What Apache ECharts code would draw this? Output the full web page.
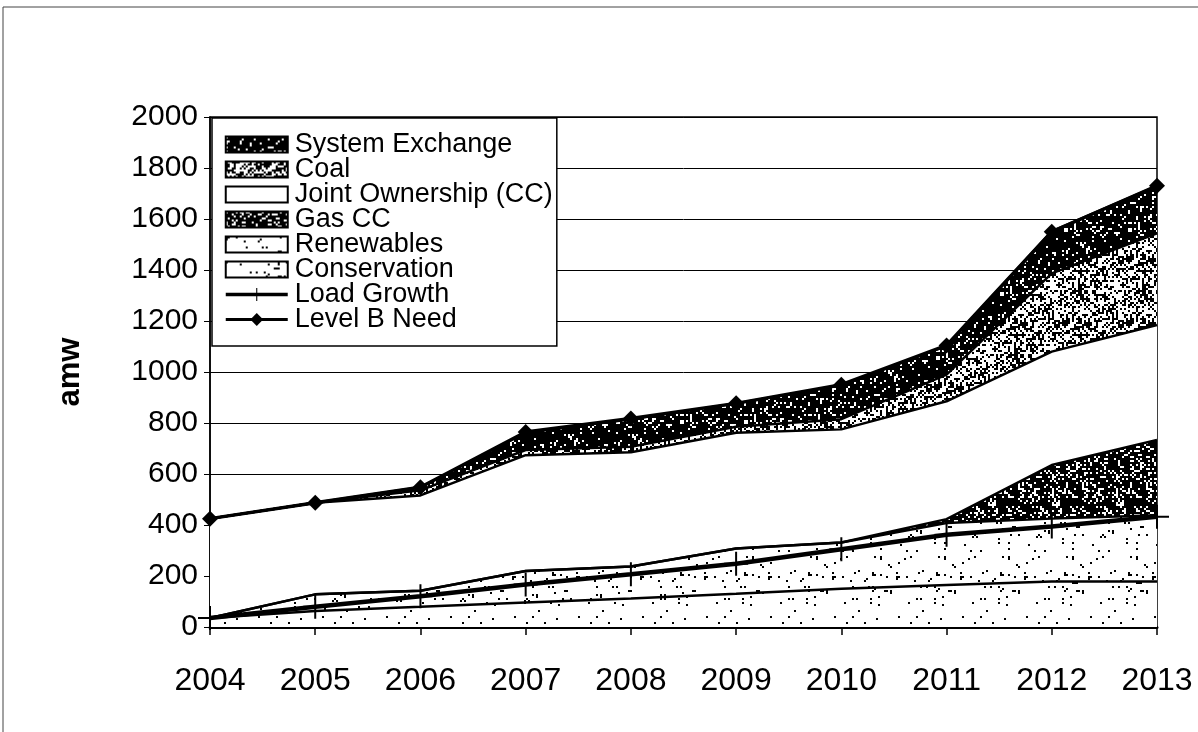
<!DOCTYPE html>
<html><head><meta charset="utf-8">
<script src="https://cdn.jsdelivr.net/npm/echarts@6/dist/echarts.min.js"></script>
<style>html,body{margin:0;padding:0;background:#fff}#c{width:1198px;height:732px}</style>
</head><body><div id="c"></div>
<script>
// ---- data (amw) ----
const years = ['2004','2005','2006','2007','2008','2009','2010','2011','2012','2013'];
const conservation   = [35, 63, 79, 96, 112, 130, 150, 165, 178, 178];
const renewables     = [0, 65, 63, 124, 125, 178, 181, 243, 247, 260];
const gasCC          = [0, 0, 0, 0, 0, 0, 0, 15, 210, 295];
const jointOwnership = [390, 359, 374, 454, 448, 454, 444, 462, 445, 451];
const coal           = [0, 0, 20, 20, 22, 23, 40, 105, 307, 360];
const systemExchange = [0, 0, 12, 68, 108, 92, 133, 113, 165, 186];
const loadGrowth     = [35, 79, 121, 167, 207, 248, 305, 362, 394, 432];
const levelBNeed     = [425, 487, 548, 765, 818, 877, 950, 1104, 1550, 1730];
const yTicks = {min: 0, max: 2000, interval: 200};

// ---- speckle textures (deterministic) ----
function speckle(bg, fg, density, seed, dot) {
  const n = 64, c = document.createElement('canvas');
  c.width = n; c.height = n;
  const ctx = c.getContext('2d');
  ctx.fillStyle = bg; ctx.fillRect(0, 0, n, n);
  let s = seed;
  const rnd = () => { s = (s * 16807) % 2147483647; return s / 2147483647; };
  ctx.fillStyle = fg;
  for (let y = 0; y < n; y += dot) for (let x = 0; x < n; x += dot) {
    if (rnd() < density) ctx.fillRect(x, y, dot, dot);
  }
  return {image: c, repeat: 'repeat'};
}
const fills = [
  speckle('#fff', '#000', 0.035, 11, 2),  // Conservation
  speckle('#fff', '#000', 0.045, 23, 2),  // Renewables
  speckle('#000', '#fff', 0.22, 37, 2),   // Gas CC
  '#fff',                                 // Joint Ownership
  speckle('#fff', '#000', 0.45, 51, 2),   // Coal
  speckle('#000', '#fff', 0.12, 73, 2)    // System Exchange
];
const areaNames = ['Conservation','Renewables','Gas CC','Joint Ownership (CC)','Coal','System Exchange'];
const areaData = [conservation, renewables, gasCC, jointOwnership, coal, systemExchange];

const series = areaData.map((d, i) => ({
  name: areaNames[i], type: 'line', stack: 'res', data: d,
  symbol: 'none', showSymbol: false, silent: true, z: 2,
  lineStyle: {color: '#000', width: 2.5},
  itemStyle: {color: '#000'},
  areaStyle: {color: fills[i], opacity: 1}
}));
series.push({
  name: 'Load Growth', type: 'line', data: loadGrowth, z: 5,
  symbol: 'path://M11,0 h2 v11 h11 v2 h-11 v11 h-2 v-11 h-11 v-2 h11 z', symbolSize: [24, 24],
  lineStyle: {color: '#000', width: 4.5}, itemStyle: {color: '#000'}
});
series.push({
  name: 'Level B Need', type: 'line', data: levelBNeed, z: 6,
  symbol: 'diamond', symbolSize: 16,
  lineStyle: {color: '#000', width: 3.5}, itemStyle: {color: '#000'}
});

const legendOrder = [5, 4, 3, 2, 1, 0];
const legendData = legendOrder.map(i => ({
  name: areaNames[i], icon: 'rect',
  itemStyle: {color: fills[i], borderColor: '#000', borderWidth: 2}
})).concat([
  {name: 'Load Growth', lineStyle: {width: 3.5, color: '#000'}},
  {name: 'Level B Need', lineStyle: {width: 3, color: '#000'}}
]);

const font = "'Liberation Sans', Arial, sans-serif";
const chart = echarts.init(document.getElementById('c'), null, {renderer: 'canvas'});
chart.setOption({
  animation: false,
  backgroundColor: '#fff',
  graphic: [{type: 'rect', shape: {x: 3, y: 7, width: 1210, height: 740}, style: {fill: 'none', stroke: '#444', lineWidth: 1}, z: 0}],
  grid: {left: 210, right: 41, top: 117, bottom: 105, show: true, borderColor: '#000', borderWidth: 1.5, backgroundColor: 'transparent'},
  legend: {
    orient: 'vertical', left: 212, top: 118, padding: [13, 4, 13, 12], itemGap: -2,
    itemWidth: 62, itemHeight: 16, backgroundColor: '#fff', borderColor: '#000', borderWidth: 1.5,
    selectedMode: false,
    textStyle: {fontFamily: font, fontSize: 27, color: '#000', lineHeight: 25, padding: [0, 0, 0, 2]},
    data: legendData
  },
  xAxis: {
    type: 'category', data: years, boundaryGap: false,
    axisLine: {lineStyle: {color: '#000', width: 3}},
    axisTick: {show: true, length: 8, lineStyle: {color: '#000', width: 1.5}},
    axisLabel: {color: '#000', fontSize: 32, fontFamily: font, margin: 38},
    splitLine: {show: false}
  },
  yAxis: {
    type: 'value', min: yTicks.min, max: yTicks.max, interval: yTicks.interval,
    name: 'amw', nameLocation: 'middle', nameGap: 124,
    nameTextStyle: {fontFamily: font, fontSize: 31, fontWeight: 'bold', color: '#000'},
    axisLine: {show: true, lineStyle: {color: '#000', width: 1.5}},
    axisTick: {show: true, length: 6, lineStyle: {color: '#000', width: 1}},
    axisLabel: {color: '#000', fontSize: 30, fontFamily: font, margin: 12, formatter: v => String(v)},
    splitLine: {lineStyle: {color: '#000', width: 1}}
  },
  series: series
});
</script></body></html>
